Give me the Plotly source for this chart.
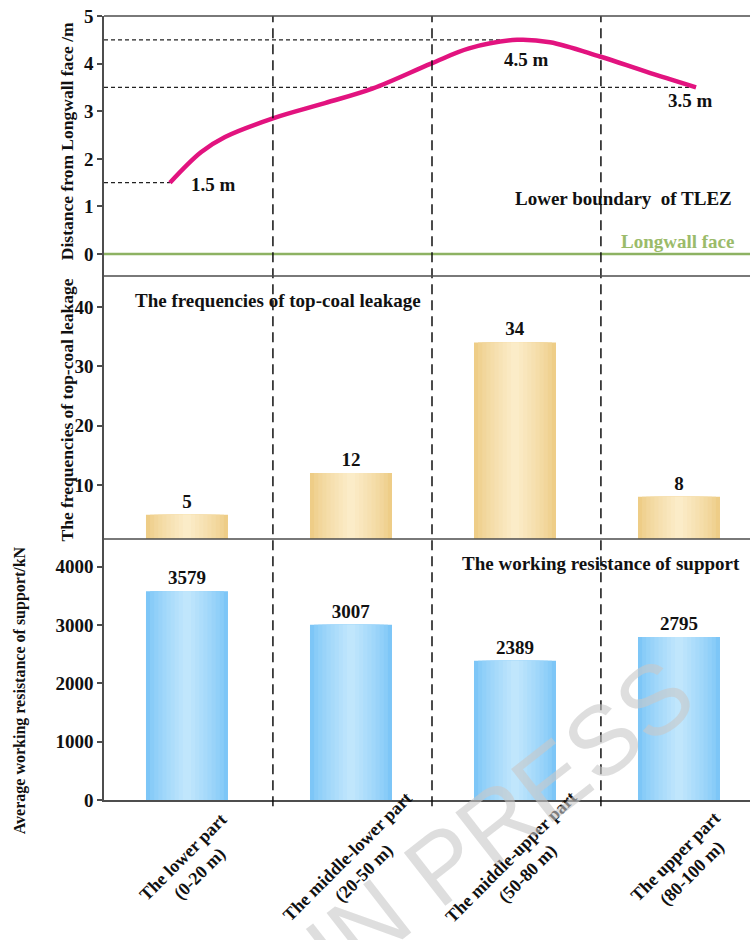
import plotly.graph_objects as go

# ---------------- data ----------------
categories = ["The lower part<br>(0-20 m)", "The middle-lower part<br>(20-50 m)",
              "The middle-upper part<br>(50-80 m)", "The upper part<br>(80-100 m)"]
cat_pos = [0, 1, 2, 3]
leak_freq = [5, 12, 34, 8]
resistance = [3579, 3007, 2389, 2795]
zone_bounds = [0.524, 1.494, 2.524]

# lower boundary of TLEZ (x in category units, y in m)
curve_x = [-0.104, 0.085, 0.232, 0.524, 0.841, 1.134, 1.488, 1.72, 2.012, 2.213, 2.518, 2.799, 3.104]
curve_y = [1.5, 2.14, 2.46, 2.85, 3.17, 3.48, 4.0, 4.32, 4.5, 4.45, 4.15, 3.83, 3.5]

x_range = [-0.506, 3.433]
SERIF = "Liberation Serif"
AX = "#4d4d4d"

fig = go.Figure()

def lerp(c1, c2, t):
    return "rgb(%d,%d,%d)" % tuple(round(a + (b - a) * t) for a, b in zip(c1, c2))

def grad_bars(vals, edge, center, yaxis, texts):
    n = 10
    for i in range(n):
        t = i / (n - 1)
        w = 0.5 * (1 - t * 0.9)
        fig.add_trace(go.Bar(
            x=cat_pos, y=vals, width=w, yaxis=yaxis, xaxis="x",
            marker=dict(color=lerp(edge, center, t ** 0.8), line=dict(width=0)),
            text=texts if i == 0 else None,
            textposition="outside" if i == 0 else "none",
            textfont=dict(family=SERIF, size=19, color="#111", weight="bold"),
            cliponaxis=False, constraintext="none",
            hoverinfo="skip", showlegend=False))

grad_bars(resistance, (125, 198, 247), (192, 230, 252), "y", [str(v) for v in resistance])
grad_bars(leak_freq, (238, 205, 135), (251, 236, 200), "y2", [str(v) for v in leak_freq])

# top panel: longwall face line and curve
fig.add_trace(go.Scatter(x=x_range, y=[0, 0], mode="lines", yaxis="y3", xaxis="x",
                         line=dict(color="#8DB262", width=2.5), showlegend=False, hoverinfo="skip"))

# reference dashed lines from axis to start, peak and end of curve
i_peak = curve_y.index(max(curve_y))
for idx in [0, i_peak, len(curve_x) - 1]:
    fig.add_trace(go.Scatter(x=[x_range[0], curve_x[idx]], y=[curve_y[idx], curve_y[idx]],
                             mode="lines", yaxis="y3", xaxis="x",
                             line=dict(color="#222", width=1.3, dash="4px,3px"),
                             showlegend=False, hoverinfo="skip"))

fig.add_trace(go.Scatter(x=curve_x, y=curve_y, mode="lines", yaxis="y3", xaxis="x",
                         line=dict(color="#E2137F", width=4.5, shape="spline", smoothing=1.0),
                         showlegend=False, hoverinfo="skip"))

shapes = []
for b in zone_bounds:
    shapes.append(dict(type="line", xref="x", yref="paper", x0=b, x1=b, y0=-0.008, y1=1,
                       line=dict(color="#111", width=1.5, dash="10px,6px"), layer="above"))
d1, d2 = 261 / 784, 524 / 784
for yy in [d1, d2, 1]:
    shapes.append(dict(type="line", xref="paper", yref="paper", x0=0, x1=1, y0=yy, y1=yy,
                       line=dict(color=AX, width=1.5), layer="above"))

ann = []
def txt(x, y, s, yref, size=19, color="#111", **kw):
    ann.append(dict(x=x, y=y, xref="x", yref=yref, text="<b>%s</b>" % s, showarrow=False,
                    font=dict(family=SERIF, size=size, color=color), **kw))

txt(0.16, 1.47, "1.5 m", "y3")
txt(2.07, 4.08, "4.5 m", "y3")
txt(3.07, 3.23, "3.5 m", "y3")
txt(2.66, 1.16, "Lower boundary  of TLEZ", "y3")
txt(2.99, 0.27, "Longwall face", "y3", color="#9BBB6A")
txt(0.555, 41.1, "The frequencies of top-coal leakage", "y2")
txt(2.524, 4064, "The working resistance of support", "y")

# y-axis titles
def ytitle(xp, yp, s, size):
    ann.append(dict(x=xp, y=yp, xref="paper", yref="paper", text="<b>%s</b>" % s, showarrow=False,
                    textangle=-90, xanchor="center", yanchor="middle",
                    font=dict(family=SERIF, size=size, color="#111")))
ytitle(-0.057, 0.8406, "Distance from Longwall face /m", 17.5)
ytitle(-0.057, 0.497, "The frequencies of top-coal leakage", 17.5)
ytitle(-0.13, 0.140, "Average working resistance of support/kN", 16)

# x category labels (rotated, centred under each bar)
for c, lx in zip(categories, cat_pos):
    ann.append(dict(x=lx + 0.03, y=-0.083, xref="x", yref="paper", text="<b>%s</b>" % c, showarrow=False,
                    textangle=-45, xanchor="center", yanchor="middle",
                    font=dict(family=SERIF, size=18, color="#111")))

# watermark
ann.append(dict(x=0.613, y=-0.026, xref="paper", yref="paper", text="IN PRESS", showarrow=False,
                textangle=-38, xanchor="center", yanchor="middle",
                font=dict(family="Liberation Sans", size=98, color="rgba(200,200,200,0.6)")))

yax_common = dict(showline=True, linecolor=AX, linewidth=1.5, ticks="outside", ticklen=5,
                  tickcolor=AX, tickwidth=1.5, showgrid=False, zeroline=False,
                  tickfont=dict(family=SERIF, size=19, color="#111", weight="bold"), anchor="x")

fig.update_layout(
    width=750, height=940,
    margin=dict(l=104, r=0, t=16, b=140),
    plot_bgcolor="white", paper_bgcolor="white",
    barmode="overlay", showlegend=False,
    xaxis=dict(range=x_range, showticklabels=False, ticks="", showgrid=False, zeroline=False,
               showline=True, linecolor=AX, linewidth=1.5, anchor="y"),
    yaxis=dict(domain=[0, d1], range=[0, 4476], tickvals=[0, 1000, 2000, 3000, 4000], **yax_common),
    yaxis2=dict(domain=[d1, d2], range=[0.9, 45.2], tickvals=[10, 20, 30, 40], **yax_common),
    yaxis3=dict(domain=[d2, 1], range=[-0.46, 5], tickvals=[0, 1, 2, 3, 4, 5], **yax_common),
    shapes=shapes, annotations=ann,
)

fig.write_html("out.html")
